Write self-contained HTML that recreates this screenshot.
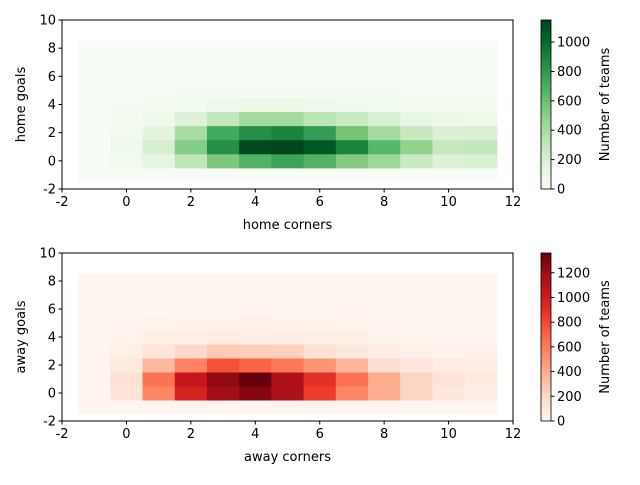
<!DOCTYPE html>
<html><head><meta charset="utf-8"><style>
body{margin:0;background:#fff}
svg text{font-family:"DejaVu Sans","Liberation Sans",sans-serif;font-size:13px;fill:#000}
</style></head><body>
<svg id="fig" width="640" height="480"></svg>
<script>
const xCats=[-1,0,1,2,3,4,5,6,7,8,9,10,11];
const yCats=[-1,0,1,2,3,4,5,6,7,8];
const homeCounts={
 0:[0,40,130,310,550,680,750,680,530,440,280,180,200],
 1:[0,60,220,520,850,1130,1140,1080,900,650,480,290,300],
 2:[0,40,150,400,720,850,900,780,570,420,290,190,200],
 3:[0,30,60,180,300,420,420,330,280,200,120,80,70],
 4:[0,20,30,50,70,90,90,70,60,50,40,30,30],
 5:[0,0,10,15,20,20,20,15,15,15,10,10,10],
 6:[0,0,0,5,5,5,5,5,5,5,0,0,0]
};
const awayCounts={
 0:[0,130,560,970,1200,1280,1150,850,560,400,220,110,70],
 1:[0,160,640,1050,1250,1360,1150,900,650,400,220,140,90],
 2:[0,100,350,570,770,700,620,500,360,170,110,70,70],
 3:[0,50,130,200,270,250,240,160,110,70,50,30,40],
 4:[0,20,50,60,70,70,60,60,50,15,10,10,10],
 5:[0,0,15,25,30,40,30,20,15,10,0,0,0],
 6:[0,0,0,0,0,0,0,0,10,0,0,0,0]
};
const xTicks=[-2,0,2,4,6,8,10,12];
const yTicks=[-2,0,2,4,6,8,10];
const homeCbTicks=[0,200,400,600,800,1000];
const awayCbTicks=[0,200,400,600,800,1000,1200];
const greens=["#f7fcf5","#e5f5e0","#c7e9c0","#a1d99b","#74c476","#41ab5d","#238b45","#006d2c","#00441b"];
const reds=["#fff5f0","#fee0d2","#fcbba1","#fc9272","#fb6a4a","#ef3b2c","#cb181d","#a50f15","#67000d"];
const NS="http://www.w3.org/2000/svg";
const svg=document.getElementById('fig');
function el(t,a,p){const e=document.createElementNS(NS,t);for(const k in a)e.setAttribute(k,a[k]);(p||svg).appendChild(e);return e;}
function hex(h){return [1,3,5].map(i=>parseInt(h.substr(i,2),16));}
function cmap(stops,t){t=Math.max(0,Math.min(1,t));const f=t*(stops.length-1);const i=Math.min(Math.floor(f),stops.length-2);const u=f-i;const a=hex(stops[i]),b=hex(stops[i+1]);return `rgb(${a.map((v,k)=>Math.round(v+(b[k]-v)*u)).join(',')})`;}
function panel(cfg){
 const {x0,x1,y0,y1,counts,stops,vmax,xl,yl,cbTicks,name}=cfg;
 const g=el('g',{});
 
 
 const sx=v=>x0+(v+2)/14*(x1-x0), sy=v=>y1-(v+2)/12*(y1-y0);
 yCats.forEach(gv=>{xCats.forEach((cv,ci)=>{
  const row=counts[gv];const val=row?row[ci]:0;
  const r=el('rect',{x:sx(cv-0.5),y:sy(gv+0.5),width:sx(cv+0.5)-sx(cv-0.5)+0.5,height:sy(gv-0.5)-sy(gv+0.5)+0.5,fill:cmap(stops,val/vmax)},g);
  
  
 });});
 const fr=el('rect',{x:x0,y:y0,width:x1-x0,height:y1-y0,fill:'none',stroke:'#000','stroke-width':1},g);
 
 
 xTicks.forEach(v=>{el('line',{x1:sx(v),x2:sx(v),y1:y1,y2:y1+3.5,stroke:'#000'},g);
  const t=el('text',{x:sx(v),y:y1+17,'text-anchor':'middle'},g);t.textContent=v;
  
  });
 yTicks.forEach(v=>{el('line',{x1:x0-3.5,x2:x0,y1:sy(v),y2:sy(v),stroke:'#000'},g);
  const t=el('text',{x:x0-6,y:sy(v)+4.5,'text-anchor':'end'},g);t.textContent=v;
  
  });
 const xt=el('text',{x:(x0+x1)/2,y:y1+40,'text-anchor':'middle'},g);xt.textContent=xl;
 
 
 const yt=el('text',{x:0,y:0,'text-anchor':'middle',transform:`translate(25,${(y0+y1)/2}) rotate(-90)`},g);yt.textContent=yl;
 
 
 const cx0=541,cx1=551;
 const cb=el('g',{},g);
 
 
 const N=120;for(let i=0;i<N;i++){el('rect',{x:cx0,y:y1-(i+1)*(y1-y0)/N,width:cx1-cx0,height:(y1-y0)/N+0.6,fill:cmap(stops,(i+0.5)/N)},cb);}
 el('rect',{x:cx0,y:y0,width:cx1-cx0,height:y1-y0,fill:'none',stroke:'#000','stroke-width':0.8},cb);
 cbTicks.forEach(v=>{const yy=y1-v/vmax*(y1-y0);el('line',{x1:cx1,x2:cx1+3.5,y1:yy,y2:yy,stroke:'#000'},cb);
  const t=el('text',{x:cx1+6,y:yy+4.5},cb);t.textContent=v;
  
  });
 const ct=el('text',{x:0,y:0,'text-anchor':'middle',transform:`translate(609,${(y0+y1)/2}) rotate(-90)`},cb);ct.textContent='Number of teams';
 
 
}
panel({x0:62,x1:513,y0:20,y1:189,counts:homeCounts,stops:greens,vmax:1150,xl:'home corners',yl:'home goals',cbTicks:homeCbTicks,name:'home'});
panel({x0:62,x1:513,y0:253,y1:421,counts:awayCounts,stops:reds,vmax:1360,xl:'away corners',yl:'away goals',cbTicks:awayCbTicks,name:'away'});
</script>
</body></html>
